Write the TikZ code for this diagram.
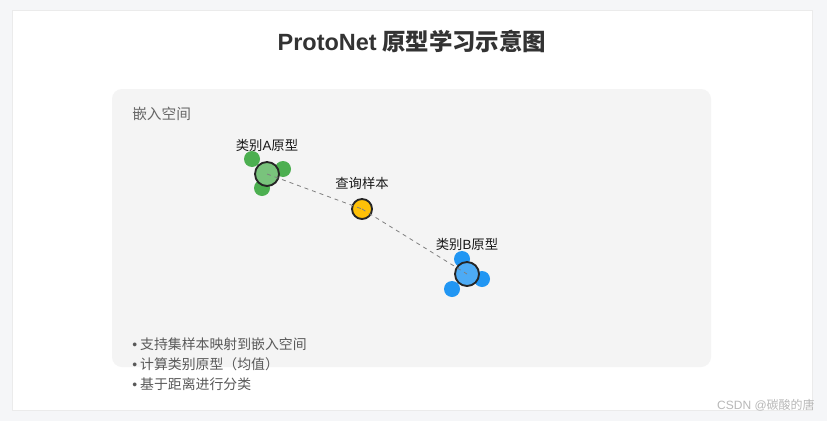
\documentclass[tikz,border=0pt]{standalone}
\usepackage{fontspec}
\setmainfont{Noto Sans CJK SC}
\newfontfamily\lat{Liberation Sans}
\usetikzlibrary{positioning}

\definecolor{bggray}{HTML}{F5F6F8}
\definecolor{panelgray}{HTML}{F4F4F4}
\definecolor{clsA}{HTML}{4CAF50}
\definecolor{clsB}{HTML}{2196F3}
\definecolor{qyellow}{HTML}{FFC107}

\begin{document}
\begin{tikzpicture}[x=0.75pt, y=-0.75pt, node distance=5pt, inner sep=0pt,
    pt/.style={circle, minimum size=12pt},
    proto/.style={circle, draw=black!85, line width=1.4pt, minimum size=18pt},
    lbl/.style={font=\fontsize{10}{12}\selectfont, text=black!90},
    note/.style={font=\fontsize{10.4}{12}\selectfont, text=black!65, anchor=west},
    link/.style={dashed, gray, line width=0.6pt}]
    \useasboundingbox (0,0) rectangle (827,421);
    \fill[bggray] (0,0) rectangle (827,421);
    \draw[black!8, fill=white] (12,10) rectangle (812,410);
    \fill[panelgray, rounded corners=7.5pt] (112,89) rectangle (711,367);

    \node[font=\bfseries\fontsize{17.6}{20}\selectfont, text=black!80] (title) at (412,41) {{\lat ProtoNet} 原型学习示意图};
    \node[font=\fontsize{11}{13}\selectfont, text=black!60, anchor=west] (space) at (132,114) {嵌入空间};

    % class A
    \node[pt, fill=clsA] (a1) at (252,159) {};
    \node[pt, fill=clsA] (a2) at (283,169) {};
    \node[pt, fill=clsA] (a3) at (262,188) {};
    \node[proto, fill=clsA!75!white] (pa) at (267,174) {};
    % class B
    \node[pt, fill=clsB] (b1) at (462,259) {};
    \node[pt, fill=clsB] (b2) at (482,279) {};
    \node[pt, fill=clsB] (b3) at (452,289) {};
    \node[proto, fill=clsB!80!white] (pb) at (467,274) {};
    % query
    \node[proto, fill=qyellow, minimum size=15pt] (q) at (362,209) {};

    \node[lbl, above=7pt of pa] (la) {类别{\lat A}原型};
    \node[lbl, above=8pt of pb] (lb) {类别{\lat B}原型};
    \node[lbl, above=6pt of q] (lq) {查询样本};

    \draw[link] (pa.center) -- (q.center);
    \draw[link] (q.center) -- (pb.center);

    \node[note] (n1) at (132,344) {{\lat•} 支持集样本映射到嵌入空间};
    \node[note] (n2) at (132,364) {{\lat•} 计算类别原型（均值）};
    \node[note] (n3) at (132,384) {{\lat•} 基于距离进行分类};

    \node[font=\fontsize{9}{11}\selectfont, text=black!28, anchor=east] (mark) at (815,405) {{\lat CSDN @}碳酸的唐};
\end{tikzpicture}
\end{document}
